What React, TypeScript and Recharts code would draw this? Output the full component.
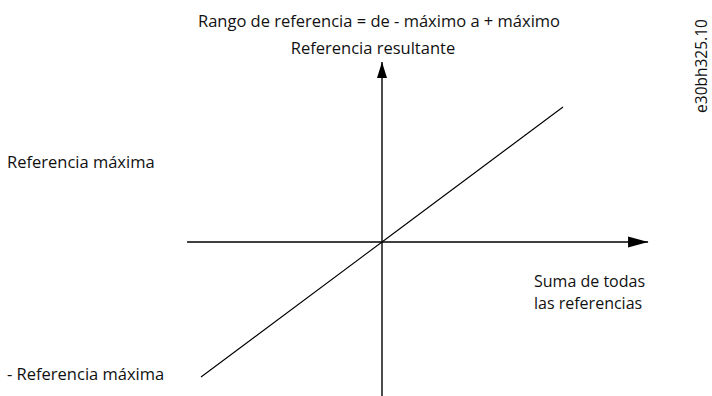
import React from 'react';
import { ComposedChart, Line, XAxis, YAxis, ReferenceLine } from 'recharts';

// suma de todas las referencias (x) vs referencia resultante (y), en unidades de "máximo"
const sumaRefs = [-1, 0, 1];
const refResultante = [-1, 0, 1];
const ejeX = [-1.077, 1.47];
const ejeY = [-1.16, 1.333];

const data = sumaRefs.map((x, i) => ({ x, y: refResultante[i] }));

const FONT = "'Open Sans', sans-serif";

const Arrow = (props: any) => {
  const { x1, y1, x2, y2, dir } = props;
  let head = '';
  if (dir === 'right') {
    head = `${x2},${y2} ${x2 - 20},${y2 - 5.5} ${x2 - 20},${y2 + 5.5}`;
  } else {
    head = `${x2},${y2} ${x2 - 5},${y2 + 16} ${x2 + 5},${y2 + 16}`;
  }
  return (
    <g>
      <line x1={x1} y1={y1} x2={x2} y2={y2} stroke="#000" strokeWidth={1.4} />
      <polygon points={head} fill="#000" />
    </g>
  );
};

const texts = [
  { t: 'Rango de referencia = de - máximo a + máximo', x: 379, y: 27, anchor: 'middle', size: 16.5 },
  { t: 'Referencia resultante', x: 373, y: 54, anchor: 'middle', size: 16.5 },
  { t: 'Referencia máxima', x: 7, y: 168, anchor: 'start', size: 16.5 },
  { t: '- Referencia máxima', x: 7, y: 380, anchor: 'start', size: 16.5 },
  { t: 'Suma de todas', x: 534, y: 287, anchor: 'start', size: 16 },
  { t: 'las referencias', x: 534, y: 309, anchor: 'start', size: 16 },
];

export default function App() {
  return (
    <div style={{ position: 'absolute', left: 0, top: 0, width: 712, height: 396, background: '#fff' }}>
      <ComposedChart width={712} height={396} data={data} margin={{ top: 0, right: 0, bottom: 0, left: 0 }}>
        <XAxis dataKey="x" type="number" hide domain={[-2.1105, 1.8232]} allowDataOverflow />
        <YAxis type="number" hide domain={[-1.1407, 1.7926]} allowDataOverflow />
        <ReferenceLine
          segment={[{ x: ejeX[0], y: 0 }, { x: ejeX[1], y: 0 }]}
          shape={(p: any) => <Arrow {...p} dir="right" />}
          ifOverflow="visible"
        />
        <ReferenceLine
          segment={[{ x: 0, y: ejeY[0] }, { x: 0, y: ejeY[1] }]}
          shape={(p: any) => <Arrow {...p} dir="up" />}
          ifOverflow="visible"
        />
        <Line
          dataKey="y"
          stroke="#000"
          strokeWidth={1.1}
          dot={false}
          activeDot={false}
          isAnimationActive={false}
        />
        {texts.map((d, i) => (
          <text key={i} x={d.x} y={d.y} textAnchor={d.anchor as any} fontFamily={FONT} fontSize={d.size} fill="#111">
            {d.t}
          </text>
        ))}
        <text
          x={707}
          y={66}
          transform="rotate(-90 707 66)"
          textAnchor="middle"
          fontFamily={FONT}
          fontSize={15.5}
          fill="#111"
        >
          e30bh325.10
        </text>
      </ComposedChart>
    </div>
  );
}
